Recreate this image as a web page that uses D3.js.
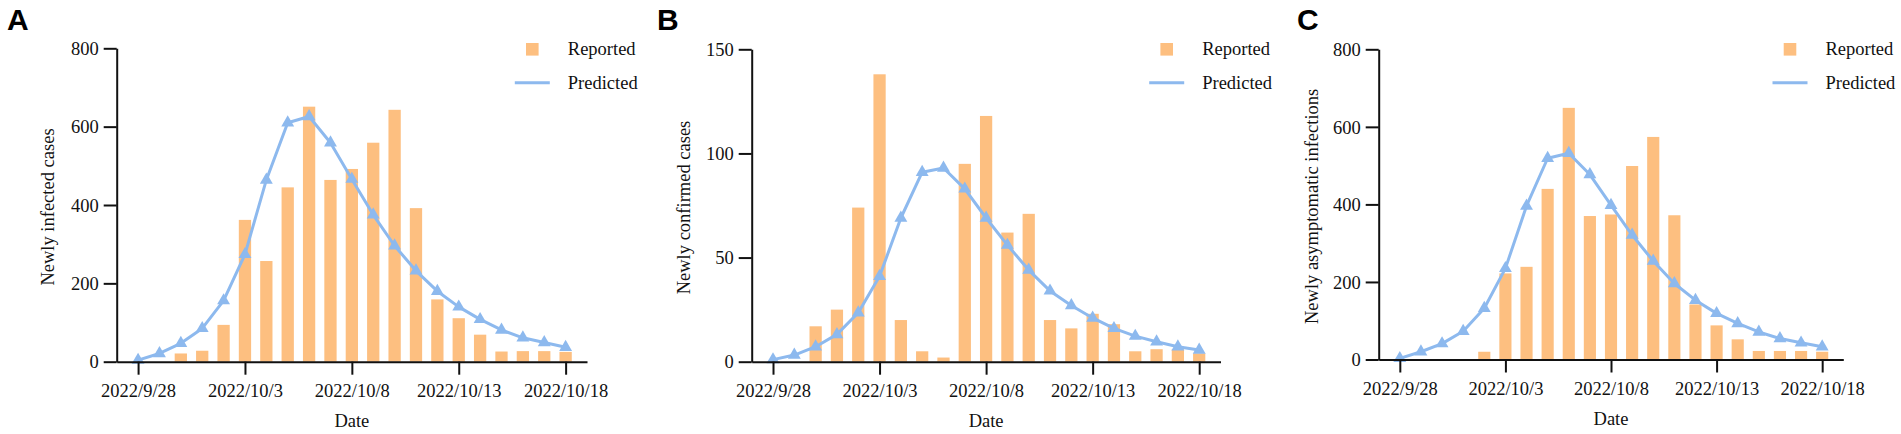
<!DOCTYPE html>
<html>
<head>
<meta charset="utf-8">
<script src="https://cdn.jsdelivr.net/npm/d3@7"></script>
<style>
  html, body { margin: 0; padding: 0; background: #fff; }
  svg { display: block; }
</style>
</head>
<body>
<svg id="chart" width="1901" height="434"></svg>
<script>
const dates = ["2022/9/28","2022/9/29","2022/9/30","2022/10/1","2022/10/2","2022/10/3","2022/10/4",
  "2022/10/5","2022/10/6","2022/10/7","2022/10/8","2022/10/9","2022/10/10","2022/10/11",
  "2022/10/12","2022/10/13","2022/10/14","2022/10/15","2022/10/16","2022/10/17","2022/10/18"];
const xTickLabels = ["2022/9/28","2022/10/3","2022/10/8","2022/10/13","2022/10/18"];

const reportedA = [0,0,21,28,94,362,257,445,651,464,492,559,643,392,159,111,69,26,27,27,25];
const predictedA = [4,21,47,85,156,274,464,610,626,559,466,375,296,232,180,140,108,81,61,49,37];

const reportedB = [0,0,17,25,74,138,20,5,2,95,118,62,71,20,16,23,18,5,6,6,4];
const predictedB = [1,3.2,7.2,13.1,23.5,41,69,91,93,83,69,56,44,34,27,21,16,12.3,9.6,7.2,5.6];

const reportedC = [0,0,1,1,20,222,239,440,649,370,374,499,574,372,142,88,52,22,22,22,20];
const predictedC = [3,20,41,73,132,235,396,519,532,477,398,321,254,196,153,119,93,71,54,43,33];

const yTicksA = [0,200,400,600,800];
const yTicksB = [0,50,100,150];
const yTicksC = [0,200,400,600,800];

const panelLetters = ["A","B","C"];
const yTitles = ["Newly infected cases","Newly confirmed cases","Newly asymptomatic infections"];
const xTitle = "Date";
const legendLabels = ["Reported","Predicted"];

const BAR = "#FDBF80";
const LINE = "#8DB9EE";
const INK = "#111";

const panels = [
  { letter: panelLetters[0], title: yTitles[0], rep: reportedA, pred: predictedA, ticks: yTicksA,
    x0: 116.7, x1: 587, yTop: 48.3, y0: 361.7, letterX: 7, titleX: 54, legX: 532.3 },
  { letter: panelLetters[1], title: yTitles[1], rep: reportedB, pred: predictedB, ticks: yTicksB,
    x0: 751.7, x1: 1220.5, yTop: 49.3, y0: 361.7, letterX: 657, titleX: 690, legX: 1166.7 },
  { letter: panelLetters[2], title: yTitles[2], rep: reportedC, pred: predictedC, ticks: yTicksC,
    x0: 1378.7, x1: 1843.3, yTop: 49.3, y0: 359.5, letterX: 1297, titleX: 1317.5, legX: 1790 }
];

const svg = d3.select("#chart");
const serif = '"Liberation Serif", "Times New Roman", serif';

panels.forEach(p => {
  const g = svg.append("g");
  const yMax = p.ticks[p.ticks.length - 1];
  const x = d3.scaleLinear().domain([-1, dates.length]).range([p.x0, p.x1]);
  const y = d3.scaleLinear().domain([0, yMax]).range([p.y0, p.yTop]);
  const step = x(1) - x(0);
  const bw = step * 0.575;

  // bars
  g.append("g").selectAll("rect").data(p.rep).join("rect")
    .attr("x", (d, i) => x(i) - bw / 2)
    .attr("y", d => y(d))
    .attr("width", bw)
    .attr("height", d => y(0) - y(d))
    .attr("fill", BAR);

  // predicted line
  const line = d3.line().x((d, i) => x(i)).y(d => y(d));
  g.append("path").datum(p.pred)
    .attr("d", line)
    .attr("fill", "none")
    .attr("stroke", LINE)
    .attr("stroke-width", 3)
    .attr("stroke-linejoin", "round");

  const tri = d3.symbol().type(d3.symbolTriangle).size(72);
  g.append("g").selectAll("path").data(p.pred).join("path")
    .attr("d", tri)
    .attr("transform", (d, i) => `translate(${x(i)},${y(d)})`)
    .attr("fill", LINE);

  // y axis
  const yAxis = d3.axisLeft(y).tickValues(p.ticks).tickSize(13).tickSizeOuter(0).tickPadding(5);
  const ya = g.append("g").attr("transform", `translate(${p.x0},0)`).call(yAxis)
    .attr("font-family", serif).attr("font-size", 18.5);
  ya.select(".domain").attr("stroke", INK).attr("stroke-width", 2);
  ya.selectAll(".tick line").attr("stroke", INK).attr("stroke-width", 2);
  ya.selectAll(".tick text").attr("dy", "0.34em").attr("fill", INK);

  // x axis
  const xIdx = xTickLabels.map(l => dates.indexOf(l));
  const xAxis = d3.axisBottom(x).tickValues(xIdx).tickFormat(i => dates[i])
    .tickSize(13).tickSizeOuter(0).tickPadding(6);
  const xa = g.append("g").attr("transform", `translate(0,${p.y0})`).call(xAxis)
    .attr("font-family", serif).attr("font-size", 18.5);
  xa.select(".domain").attr("stroke", INK).attr("stroke-width", 2);
  xa.selectAll(".tick line").attr("stroke", INK).attr("stroke-width", 2);
  xa.selectAll(".tick text").attr("dy", "0.9em").attr("fill", INK);

  // x title
  g.append("text")
    .attr("x", x(dates.indexOf(xTickLabels[2])))
    .attr("y", p.y0 + 65)
    .attr("text-anchor", "middle")
    .attr("font-family", serif).attr("font-size", 18.5).attr("fill", INK)
    .text(xTitle);

  // y title
  g.append("text")
    .attr("transform", `translate(${p.titleX},${(p.yTop + p.y0) / 2 + 2}) rotate(-90)`)
    .attr("text-anchor", "middle")
    .attr("font-family", serif).attr("font-size", 18.5).attr("fill", INK)
    .text(p.title);

  // panel letter
  g.append("text")
    .attr("x", p.letterX).attr("y", 30)
    .attr("font-family", '"Liberation Sans", Arial, sans-serif')
    .attr("font-weight", "bold").attr("font-size", 30).attr("fill", "#000")
    .text(p.letter);

  // legend
  const lg = g.append("g");
  lg.append("rect").attr("x", p.legX - 6.3).attr("y", 49.3 - 6.3).attr("width", 12.6).attr("height", 12.6).attr("fill", BAR);
  lg.append("line").attr("x1", p.legX - 17.5).attr("x2", p.legX + 17.5)
    .attr("y1", 82.7).attr("y2", 82.7).attr("stroke", LINE).attr("stroke-width", 3);
  lg.selectAll("text").data(legendLabels).join("text")
    .attr("x", p.legX + 35.5)
    .attr("y", (d, i) => i === 0 ? 55 : 88.5)
    .attr("font-family", serif).attr("font-size", 18.5).attr("fill", INK)
    .text(d => d);
});
</script>
</body>
</html>
